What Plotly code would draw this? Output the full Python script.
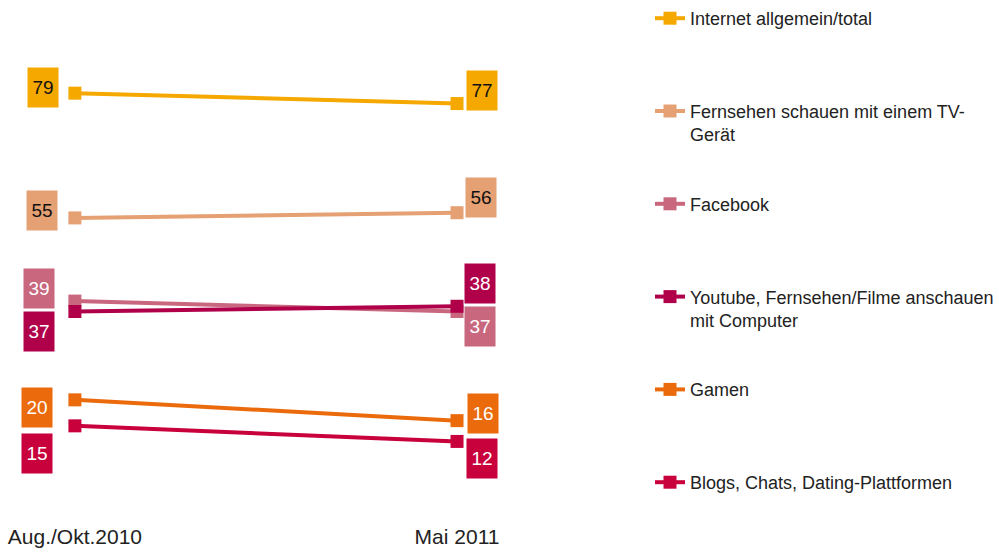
import plotly.graph_objects as go

periods = ["Aug./Okt.2010", "Mai 2011"]

series = [
    "Internet allgemein/total",
    "Fernsehen schauen mit einem TV-<br>Gerät",
    "Facebook",
    "Youtube, Fernsehen/Filme anschauen<br>mit Computer",
    "Gamen",
    "Blogs, Chats, Dating-Plattformen",
]
internet = [79, 77]
tv = [55, 56]
facebook = [39, 37]
youtube = [37, 38]
gamen = [20, 16]
blogs = [15, 12]
values = [internet, tv, facebook, youtube, gamen, blogs]

colors = ["#F5A800", "#E5A073", "#C9677F", "#B0004A", "#EA6A0C", "#C8003C"]
text_colors = ["#111111", "#111111", "white", "white", "white", "white"]

# label box offsets (pixels) - left / right of markers
left_dx = [-32, -33, -36, -36, -38, -38]
left_dy = [6, 7, 13, -20, -8, -28]
right_dx = [25, 24, 23, 23, 26, 25]
right_dy = [13, 15, -15, 23, 7, -17]

fig = go.Figure()
for i, name in enumerate(series):
    label = name if "<br>" in name else name + "<br>\u00a0"
    fig.add_trace(go.Scatter(
        x=periods, y=values[i], name=label, mode="lines+markers",
        line=dict(color=colors[i], width=4),
        marker=dict(color=colors[i], size=13, symbol="square"),
        legendgroup=str(i), hoverinfo="skip"))
    for j, (dx, dy) in enumerate([(left_dx[i], left_dy[i]), (right_dx[i], right_dy[i])]):
        fig.add_annotation(
            x=periods[j], y=values[i][j], text=str(values[i][j]),
            showarrow=False, xshift=dx, yshift=dy,
            width=30, height=39, bgcolor=colors[i], borderpad=0,
            font=dict(size=19, color=text_colors[i]))

fig.update_layout(
    width=999, height=552,
    margin=dict(l=0, r=469, t=10, b=30, autoexpand=False),
    paper_bgcolor="white", plot_bgcolor="white",
    font=dict(family="Liberation Sans, Arial, sans-serif", color="#222222"),
    xaxis=dict(range=[-0.196, 1.191], showgrid=False, zeroline=False,
               showline=False, ticks="", tickfont=dict(size=21)),
    yaxis=dict(range=[-3.5, 95], visible=False, showgrid=False),
    legend=dict(x=650 / 999, xref="container", xanchor="left",
                y=1.026, yref="container", yanchor="top",
                font=dict(size=18), valign="top", tracegroupgap=43,
                maxheight=600, bgcolor="rgba(0,0,0,0)"),
)

fig.write_html("out.html", config={"displayModeBar": False},
               post_script="document.body.style.margin='0';")
